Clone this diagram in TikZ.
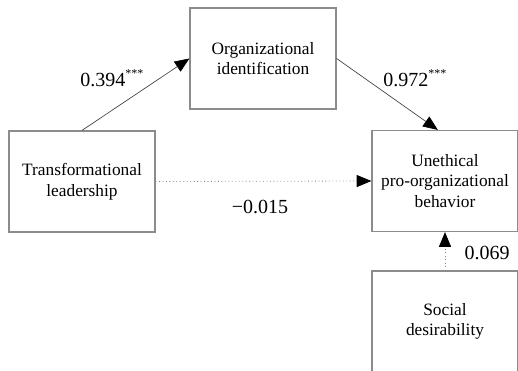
\documentclass[tikz,border=0pt]{standalone}
\usepackage{fontspec}
\setmainfont{Liberation Serif}
\usetikzlibrary{arrows.meta}
\newcommand{\stars}{\raisebox{0.45em}{\fontsize{9}{9}\selectfont ***}}
\tikzset{
  varbox/.style={draw=gray!90, line width=0.9pt, minimum width=109.5pt, minimum height=75.75pt,
    inner sep=0pt, align=center, font=\fontsize{13}{15.5}\selectfont},
  path/.style={draw=black!75, line width=0.5pt, -{Triangle[length=11pt, width=9pt, color=black]}},
  weakpath/.style={draw=gray, line width=0.6pt, dotted,
    -{Triangle[length=11pt, width=9pt, color=black]}},
  coef/.style={font=\fontsize{15}{18}\selectfont, inner sep=0pt}
}
\begin{document}
\begin{tikzpicture}[x=0.75pt, y=-0.75pt]
  % mediation model with social desirability as control
  \useasboundingbox (0,0) rectangle (518,371);
  \clip (0,0) rectangle (518,371);
  \node[varbox] (org) at (263,58.5) {Organizational\\identification};
  \node[varbox] (trans) at (82,181.5) {Transformational\\leadership};
  \node[varbox] (ube) at (445,181) {Unethical\\pro-organizational\\behavior};
  \node[varbox] (soc) at (445,321.5) {Social\\desirability};
  \draw[path] (trans.north) -- (org.west);
  \draw[path] (org.east) -- (ube.98);
  \draw[weakpath] (trans.east) -- (ube.west);
  \draw[weakpath] (soc.north) -- (ube.south);
  \node[coef, anchor=west] (a) at (80,78) {0.394\stars};
  \node[coef, anchor=west] (b) at (383,78) {0.972\stars};
  \node[coef] (c) at (260,207) {−0.015};
  \node[coef] (d) at (487,253) {0.069};
\end{tikzpicture}
\end{document}
